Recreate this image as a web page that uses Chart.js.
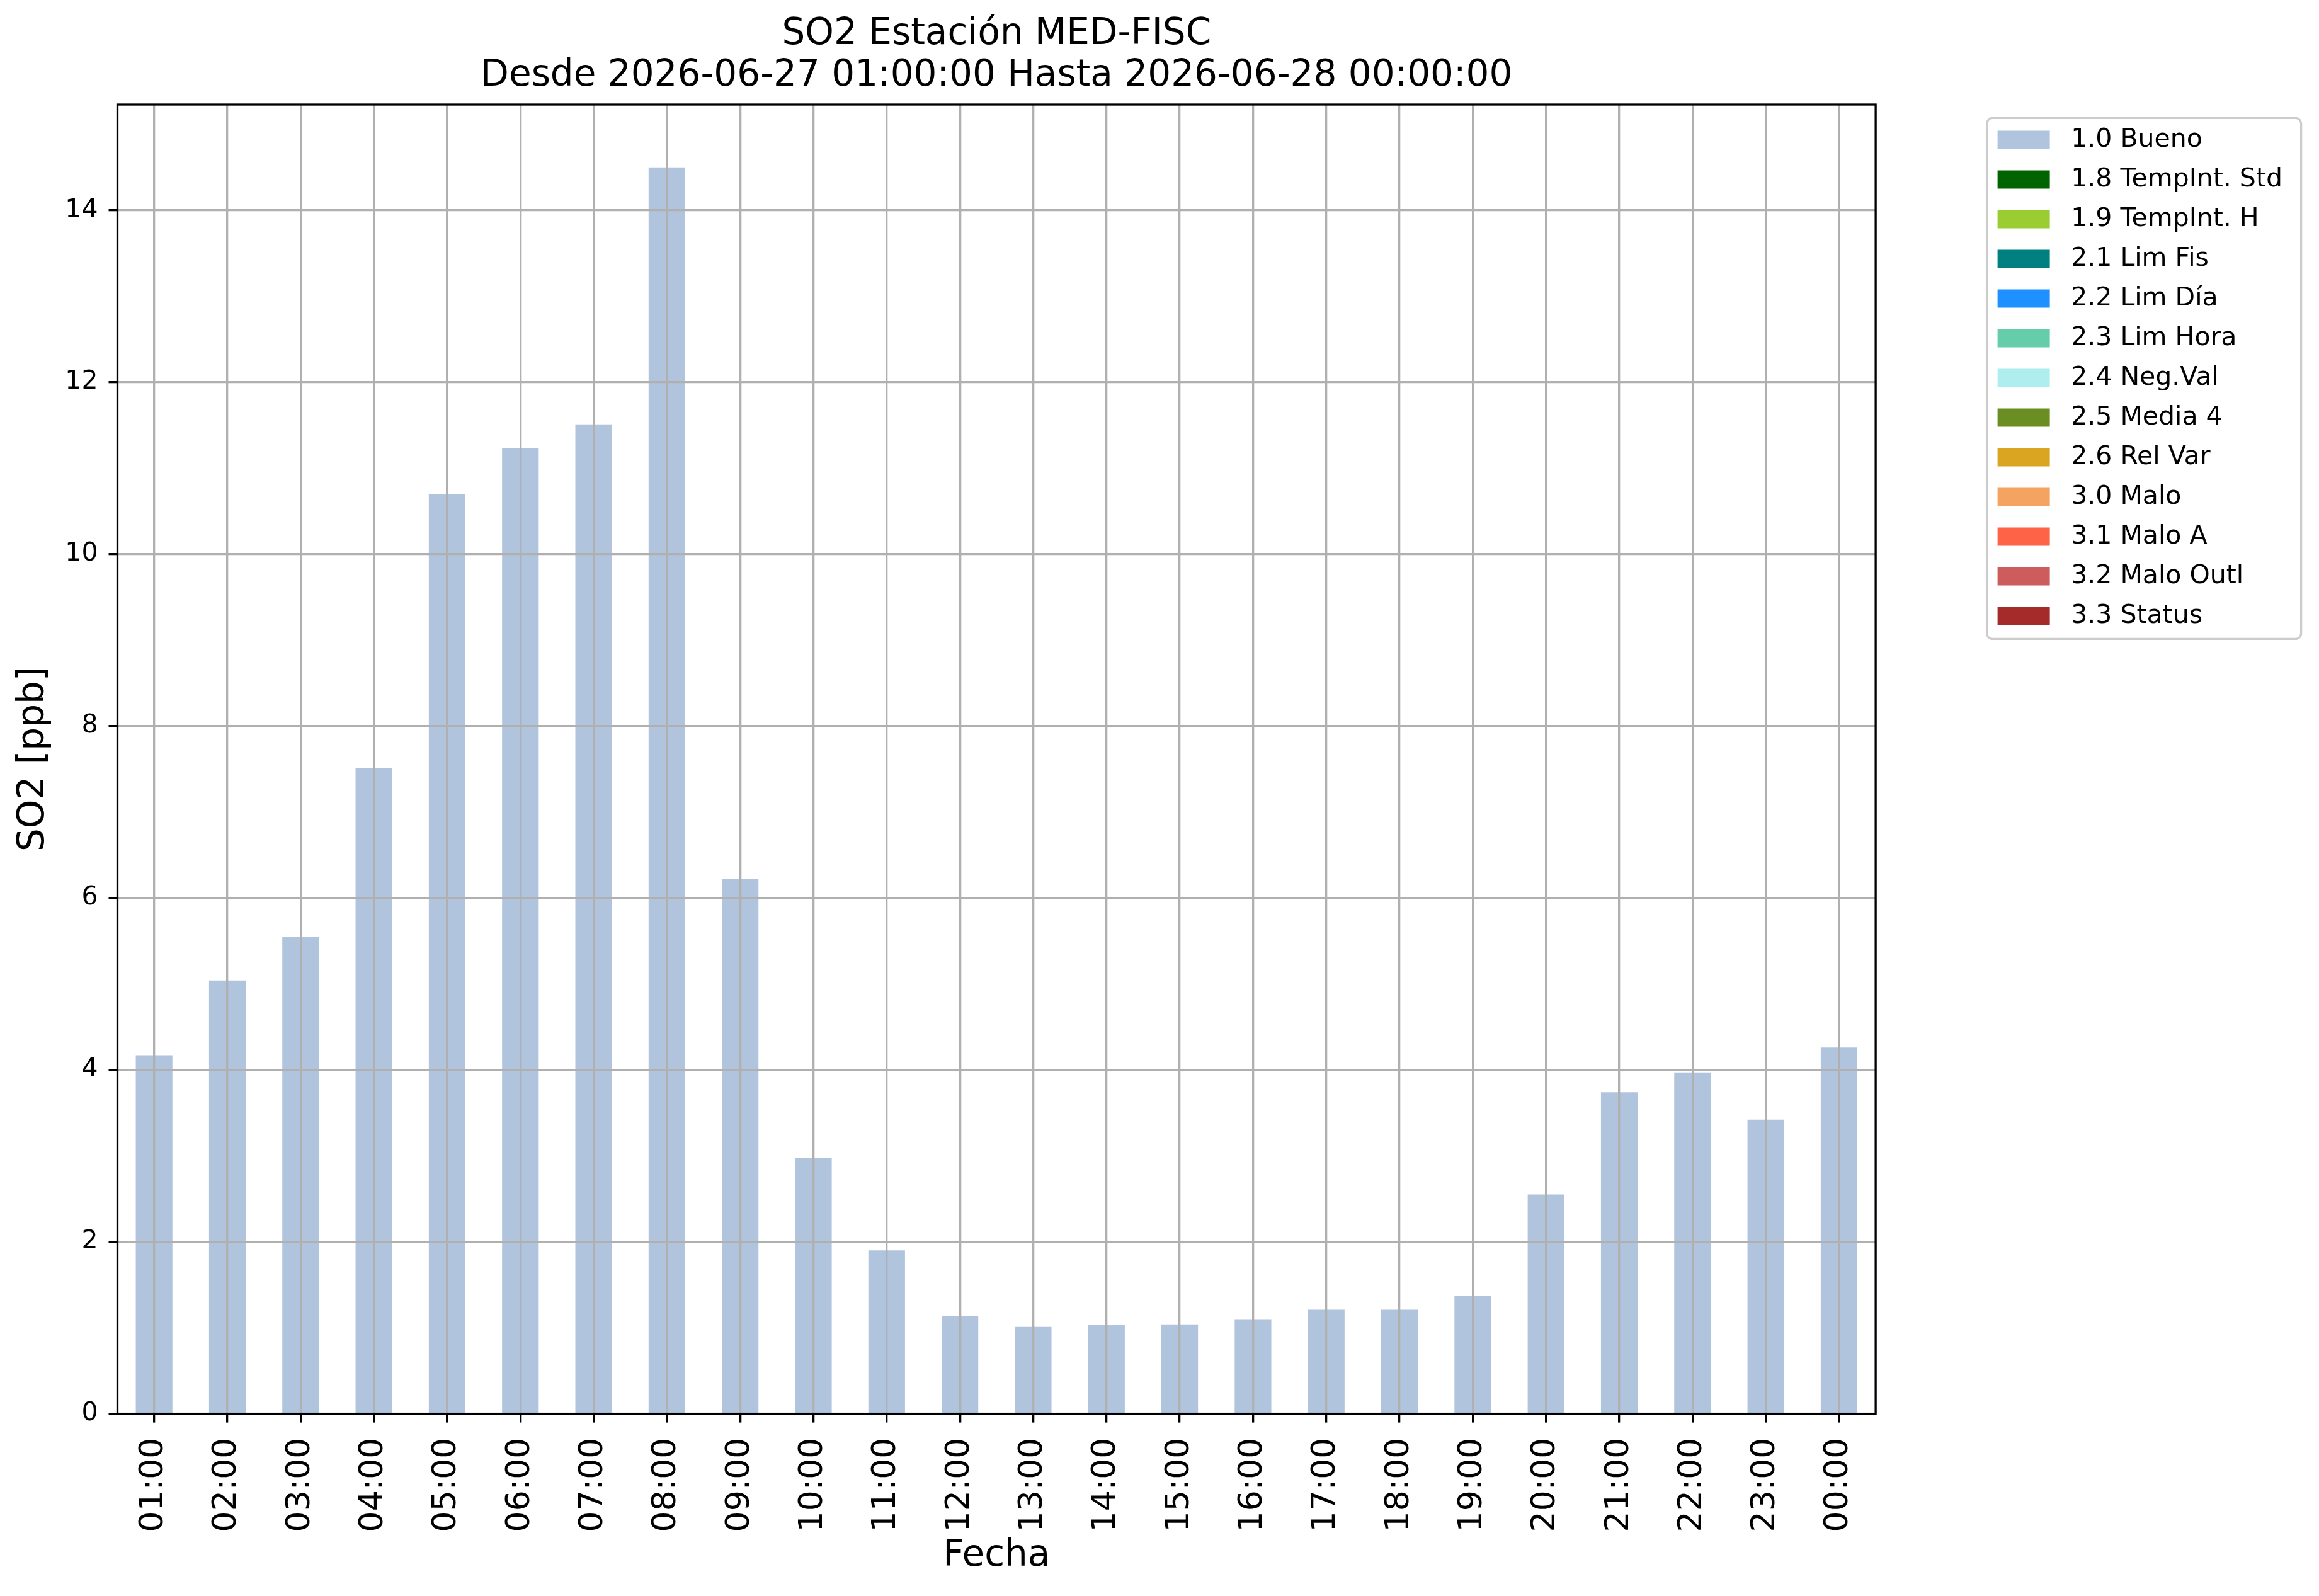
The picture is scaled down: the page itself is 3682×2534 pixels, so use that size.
<!DOCTYPE html>
<html>
<head>
<meta charset="utf-8">
<script src="https://cdn.jsdelivr.net/npm/chart.js@4"></script>
<style>
  html, body { margin: 0; padding: 0; background: #fff; }
  canvas { display: block; }
</style>
</head>
<body>
<canvas id="chart1" width="3682" height="2534"></canvas>
<script>
// Hourly SO2 values (ppb), station MED-FISC
const hours = ['01:00', '02:00', '03:00', '04:00', '05:00', '06:00', '07:00', '08:00',
               '09:00', '10:00', '11:00', '12:00', '13:00', '14:00', '15:00', '16:00',
               '17:00', '18:00', '19:00', '20:00', '21:00', '22:00', '23:00', '00:00'];
const so2Bueno = [4.17, 5.04, 5.55, 7.51, 10.70, 11.23, 11.51, 14.50,
                  6.22, 2.98, 1.90, 1.14, 1.01, 1.03, 1.04, 1.10,
                  1.21, 1.21, 1.37, 2.55, 3.74, 3.97, 3.42, 4.26];

// Quality flags shown in the legend (only "Bueno" has data here)
const flagNames = ['1.0 Bueno', '1.8 TempInt. Std', '1.9 TempInt. H', '2.1 Lim Fis', '2.2 Lim Día',
                   '2.3 Lim Hora', '2.4 Neg.Val', '2.5 Media 4', '2.6 Rel Var', '3.0 Malo',
                   '3.1 Malo A', '3.2 Malo Outl', '3.3 Status'];
const flagColors = ['#b0c4de', '#006400', '#9acd32', '#008080', '#1e90ff',
                    '#66cdaa', '#afeeee', '#6b8e23', '#daa520', '#f4a460',
                    '#ff6347', '#cd5c5c', '#a52a2a'];
const flagData = [so2Bueno, [], [], [], [], [], [], [], [], [], [], [], []];

const yTicks = { min: 0, max: 15.23, step: 2 };

Chart.defaults.font.family = "'DejaVu Sans'";
Chart.defaults.color = '#000';

const datasets = flagNames.map((name, i) => ({
    label: name,
    data: flagData[i],
    backgroundColor: flagColors[i],
    borderWidth: 0,
    categoryPercentage: 1.0,
    barPercentage: 0.5
}));

// axes frame + legend box like matplotlib
const framePlugin = {
    id: 'mplFrame',
    afterDraw(chart) {
        const ctx = chart.ctx;
        const a = chart.chartArea;
        ctx.save();
        ctx.strokeStyle = '#000';
        ctx.lineWidth = 3.3;
        ctx.strokeRect(a.left, a.top, a.right - a.left, a.bottom - a.top);
        const boxes = chart.legend.legendHitBoxes;
        if (boxes && boxes.length) {
            const first = boxes[0], last = boxes[boxes.length - 1];
            const x0 = first.left - 17, y0 = first.top - 14;
            const x1 = first.left + 482, y1 = last.top + 57;
            ctx.strokeStyle = '#cccccc';
            ctx.lineWidth = 3.3;
            ctx.beginPath();
            ctx.roundRect(x0, y0, x1 - x0, y1 - y0, 9);
            ctx.stroke();
        }
        ctx.restore();
    }
};

const gridStyle = {
    color: '#b0b0b0',
    lineWidth: 3.3,
    tickColor: '#000',
    tickWidth: 3.3,
    tickLength: 14,
    z: 1
};

const ctx = document.getElementById('chart1').getContext('2d');
const myChart = new Chart(ctx, {
    type: 'bar',
    data: { labels: hours, datasets: datasets },
    plugins: [framePlugin],
    options: {
        responsive: false,
        devicePixelRatio: 1,
        animation: false,
        layout: { padding: { left: 0, top: 0, right: 48, bottom: 0 } },
        scales: {
            x: {
                stacked: true,
                offset: true,
                grid: Object.assign({ offset: false }, gridStyle),
                border: { display: false },
                ticks: { autoSkip: false, maxRotation: 90, minRotation: 90, padding: 24, font: { size: 52 } },
                title: { display: true, text: 'Fecha', font: { size: 58 }, padding: { top: 0, bottom: 28 } },
                afterFit: s => { s.height = 289.4; }
            },
            y: {
                stacked: true,
                min: yTicks.min,
                max: yTicks.max,
                grid: gridStyle,
                border: { display: false },
                ticks: { stepSize: yTicks.step, includeBounds: false, padding: 17, font: { size: 41 } },
                title: { display: true, text: 'SO2 [ppb]', font: { size: 58 }, padding: { top: 19, bottom: 0 } },
                afterFit: s => { s.width = 186.5; }
            },
            yR: {
                type: 'linear',
                position: 'right',
                display: true,
                grid: { display: false },
                border: { display: false },
                ticks: { display: false },
                afterFit: s => { s.width = 171.5; }
            }
        },
        plugins: {
            title: {
                display: true,
                fullSize: false,
                text: ['SO2 Estación MED-FISC', 'Desde 2026-06-27 01:00:00 Hasta 2026-06-28 00:00:00'],
                font: { size: 58, weight: 'normal', lineHeight: 1.138 },
                padding: { top: 22, bottom: 12 }
            },
            legend: {
                position: 'right',
                align: 'start',
                fullSize: false,
                title: { display: true, text: '', padding: 0, font: { size: 11, lineHeight: 1.22 } },
                labels: {
                    boxWidth: 83,
                    boxHeight: 29,
                    padding: 22,
                    font: { size: 41 },
                    generateLabels: chart => Chart.defaults.plugins.legend.labels.generateLabels(chart)
                        .map(l => Object.assign(l, { text: ' ' + l.text }))
                }
            },
            tooltip: { enabled: false }
        }
    }
});
</script>
</body>
</html>
